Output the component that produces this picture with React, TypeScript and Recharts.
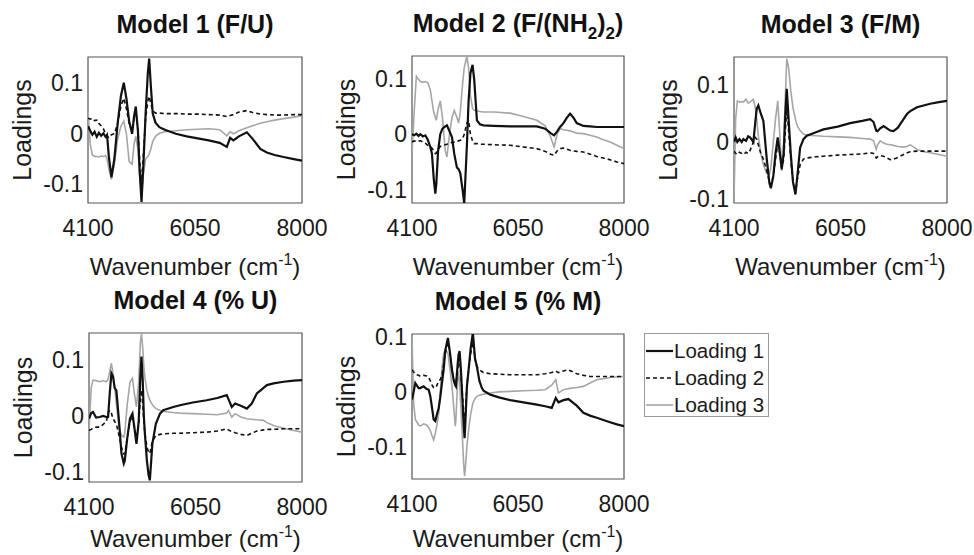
import React from 'react';
import { LineChart, Line, XAxis, YAxis, ReferenceArea } from 'recharts';

const FONT = "'Liberation Sans', Arial, Helvetica, sans-serif";

const xTicks = [4100, 6050, 8000];
const yTicks = [-0.1, 0, 0.1];
const seriesNames = ['Loading 1', 'Loading 2', 'Loading 3'];

// ---------- Model 1 (F/U) ----------
const p1Wavenumber = [4100, 4140, 4180, 4220, 4260, 4300, 4340, 4380, 4420, 4447, 4480, 4527, 4580, 4640, 4700, 4752, 4800, 4850, 4904, 4940, 4971, 5010, 5040, 5075, 5110, 5150, 5190, 5215, 5245, 5280, 5330, 5400, 5500, 5700, 5900, 6100, 6300, 6500, 6630, 6690, 6750, 6850, 6995, 7100, 7240, 7360, 7500, 7665, 7850, 8000];
const p1Loading1 = [0.015, 0.006, -0.002, 0.004, -0.006, 0.002, -0.004, 0.001, -0.006, -0.002, -0.045, -0.086, -0.05, 0.02, 0.075, 0.101, 0.07, 0.025, 0.0, 0.035, 0.054, 0.005, -0.07, -0.135, -0.06, 0.04, 0.12, 0.149, 0.095, 0.04, 0.022, 0.013, 0.008, 0.0, -0.005, -0.009, -0.013, -0.018, -0.026, -0.008, -0.013, -0.005, 0.003, -0.01, -0.03, -0.037, -0.042, -0.046, -0.05, -0.053];
const p1Loading2 = [0.031, 0.029, 0.031, 0.026, 0.027, 0.02, 0.016, 0.01, 0.0, -0.004, -0.008, -0.002, 0.0, 0.02, 0.055, 0.07, 0.05, 0.02, 0.005, 0.03, 0.045, 0.01, -0.05, -0.1, -0.04, 0.03, 0.065, 0.074, 0.06, 0.045, 0.041, 0.041, 0.04, 0.04, 0.039, 0.039, 0.038, 0.037, 0.034, 0.036, 0.038, 0.043, 0.046, 0.042, 0.039, 0.038, 0.037, 0.037, 0.038, 0.038];
const p1Loading3 = [0.045, -0.02, -0.042, -0.045, -0.045, -0.046, -0.044, -0.045, -0.043, -0.05, -0.07, -0.09, -0.06, -0.01, 0.015, 0.025, 0.0, -0.055, -0.06, -0.02, -0.005, -0.03, -0.08, -0.12, -0.08, -0.05, -0.045, -0.04, -0.03, -0.015, -0.005, 0.001, 0.004, 0.006, 0.008, 0.009, 0.01, 0.008, -0.004, 0.004, 0.0, 0.006, 0.012, 0.016, 0.021, 0.024, 0.027, 0.03, 0.033, 0.036];

// ---------- Model 2 (F/(NH2)2) ----------
const p2Wavenumber = [4100, 4140, 4180, 4220, 4253, 4300, 4345, 4390, 4437, 4467, 4500, 4529, 4547, 4580, 4620, 4660, 4712, 4743, 4790, 4835, 4877, 4926, 4957, 4988, 5030, 5061, 5110, 5141, 5175, 5214, 5245, 5294, 5350, 5416, 5600, 5906, 6150, 6396, 6550, 6650, 6714, 6770, 6824, 6886, 6950, 7008, 7070, 7130, 7253, 7375, 7498, 7620, 7743, 7870, 8000];
const p2Loading1 = [0.0, -0.002, 0.001, -0.003, 0.0, -0.004, -0.002, -0.01, -0.023, -0.035, -0.08, -0.107, -0.09, -0.03, 0.0, 0.01, 0.014, 0.016, 0.005, -0.005, -0.035, -0.06, -0.063, -0.07, -0.1, -0.125, -0.02, 0.06, 0.11, 0.125, 0.098, 0.025, 0.018, 0.016, 0.015, 0.014, 0.014, 0.014, 0.01, 0.002, -0.002, 0.005, 0.013, 0.02, 0.03, 0.037, 0.03, 0.02, 0.015, 0.014, 0.013, 0.013, 0.013, 0.013, 0.013];
const p2Loading2 = [-0.014, -0.012, -0.013, -0.012, -0.012, -0.014, -0.016, -0.02, -0.023, -0.025, -0.03, -0.035, -0.034, -0.028, -0.022, -0.02, -0.019, -0.018, -0.016, -0.015, -0.014, -0.013, -0.012, -0.011, -0.008, 0.0, 0.02, 0.025, 0.0, -0.012, -0.017, -0.017, -0.018, -0.018, -0.019, -0.02, -0.023, -0.026, -0.031, -0.036, -0.038, -0.03, -0.026, -0.025, -0.027, -0.029, -0.03, -0.031, -0.032, -0.036, -0.04, -0.043, -0.046, -0.05, -0.053];
const p2Loading3 = [-0.035, 0.04, 0.104, 0.099, 0.095, 0.094, 0.095, 0.093, 0.08, 0.06, 0.04, 0.03, 0.025, 0.045, 0.06, 0.03, -0.03, -0.041, 0.0, 0.03, 0.043, 0.03, 0.02, 0.04, 0.09, 0.12, 0.14, 0.12, 0.07, 0.046, 0.043, 0.042, 0.041, 0.04, 0.04, 0.038, 0.032, 0.025, 0.015, -0.005, -0.023, 0.0, 0.01, 0.008, 0.007, 0.006, 0.004, 0.002, 0.001, -0.002, -0.005, -0.01, -0.014, -0.02, -0.026];

// ---------- Model 3 (F/M) ----------
const p3Wavenumber = [4100, 4130, 4161, 4200, 4240, 4271, 4320, 4360, 4393, 4455, 4490, 4516, 4546, 4590, 4638, 4700, 4748, 4775, 4820, 4860, 4901, 4940, 4974, 5010, 5040, 5066, 5100, 5139, 5180, 5225, 5260, 5310, 5372, 5433, 5600, 5738, 6000, 6227, 6450, 6594, 6655, 6704, 6729, 6777, 6839, 6900, 6961, 7022, 7100, 7205, 7267, 7328, 7450, 7570, 7694, 7850, 8000];
const p3Loading1 = [0.0, 0.008, 0.0, 0.005, 0.0, 0.005, 0.002, 0.01, 0.008, 0.0, 0.035, 0.058, 0.064, 0.05, 0.037, -0.03, -0.072, -0.081, -0.06, -0.02, 0.008, -0.02, -0.048, -0.02, 0.05, 0.093, 0.04, -0.02, -0.07, -0.092, -0.06, -0.01, 0.005, 0.011, 0.017, 0.022, 0.027, 0.033, 0.037, 0.04, 0.035, 0.02, 0.019, 0.024, 0.028, 0.024, 0.02, 0.019, 0.025, 0.04, 0.049, 0.054, 0.061, 0.064, 0.067, 0.07, 0.072];
const p3Loading2 = [-0.016, -0.02, -0.022, -0.018, -0.02, -0.022, -0.018, -0.02, -0.015, 0.0, 0.008, 0.005, -0.005, -0.02, -0.03, -0.05, -0.07, -0.075, -0.06, -0.03, -0.005, -0.02, -0.045, -0.03, 0.02, 0.06, 0.02, -0.03, -0.07, -0.09, -0.065, -0.04, -0.03, -0.028, -0.026, -0.025, -0.023, -0.022, -0.021, -0.019, -0.02, -0.028, -0.026, -0.024, -0.025, -0.028, -0.031, -0.03, -0.027, -0.022, -0.019, -0.017, -0.016, -0.016, -0.016, -0.016, -0.016];
const p3Loading3 = [-0.1, 0.04, 0.072, 0.07, 0.071, 0.07, 0.075, 0.068, 0.07, 0.075, 0.06, 0.04, 0.01, -0.02, -0.04, -0.055, -0.057, -0.045, 0.0, 0.04, 0.072, 0.01, -0.051, 0.0, 0.08, 0.146, 0.13, 0.09, 0.06, 0.04, 0.028, 0.02, 0.014, 0.012, 0.011, 0.01, 0.009, 0.008, 0.006, 0.005, 0.002, -0.013, -0.005, 0.002, -0.002, -0.004, -0.005, -0.006, -0.008, -0.009, -0.008, -0.005, -0.013, -0.017, -0.019, -0.022, -0.025];

// ---------- Model 4 (% U) ----------
const p4Wavenumber = [4100, 4140, 4173, 4230, 4296, 4360, 4418, 4449, 4480, 4510, 4540, 4570, 4602, 4650, 4694, 4737, 4755, 4800, 4850, 4896, 4930, 4969, 5010, 5040, 5061, 5085, 5104, 5122, 5160, 5190, 5214, 5260, 5324, 5400, 5459, 5643, 5765, 6000, 6255, 6450, 6622, 6653, 6714, 6775, 6880, 6990, 7080, 7173, 7296, 7357, 7479, 7663, 7850, 8000];
const p4Loading1 = [-0.005, 0.005, 0.007, -0.003, -0.002, 0.0, -0.002, -0.002, 0.04, 0.076, 0.07, 0.05, 0.045, -0.01, -0.067, -0.085, -0.08, -0.04, -0.005, 0.004, -0.02, -0.05, -0.01, 0.07, 0.106, 0.06, 0.0, -0.03, -0.08, -0.105, -0.115, -0.05, -0.014, 0.004, 0.01, 0.016, 0.019, 0.024, 0.028, 0.032, 0.037, 0.03, 0.016, 0.022, 0.018, 0.013, 0.022, 0.04, 0.05, 0.055, 0.058, 0.061, 0.063, 0.064];
const p4Loading2 = [-0.026, -0.024, -0.022, -0.02, -0.02, -0.015, -0.01, 0.005, 0.01, 0.005, -0.005, -0.01, -0.015, -0.035, -0.056, -0.068, -0.068, -0.04, -0.01, 0.0, -0.02, -0.044, -0.01, 0.03, 0.046, 0.02, -0.01, -0.03, -0.055, -0.065, -0.067, -0.045, -0.035, -0.033, -0.032, -0.031, -0.031, -0.03, -0.029, -0.027, -0.023, -0.025, -0.028, -0.03, -0.033, -0.035, -0.031, -0.027, -0.025, -0.024, -0.024, -0.023, -0.023, -0.023];
const p4Loading3 = [-0.025, 0.05, 0.064, 0.063, 0.061, 0.063, 0.061, 0.065, 0.08, 0.094, 0.075, 0.05, 0.02, -0.02, -0.035, -0.038, -0.03, 0.02, 0.06, 0.067, 0.04, 0.016, 0.06, 0.13, 0.147, 0.12, 0.088, 0.07, 0.045, 0.035, 0.028, 0.02, 0.013, 0.01, 0.008, 0.006, 0.005, 0.004, 0.003, 0.002, 0.005, 0.01, -0.002, 0.004, -0.002, -0.005, -0.006, -0.007, -0.008, -0.012, -0.017, -0.022, -0.026, -0.029];

// ---------- Model 5 (% M) ----------
const p5Wavenumber = [4100, 4130, 4161, 4222, 4253, 4314, 4370, 4406, 4437, 4470, 4498, 4529, 4560, 4590, 4620, 4650, 4682, 4712, 4761, 4800, 4835, 4870, 4896, 4908, 4940, 4957, 4975, 5000, 5031, 5050, 5067, 5080, 5110, 5141, 5180, 5220, 5260, 5294, 5340, 5386, 5416, 5539, 5700, 5906, 6150, 6396, 6550, 6671, 6745, 6794, 6886, 6977, 7130, 7253, 7375, 7498, 7620, 7743, 7870, 8000];
const p5Loading1 = [-0.014, 0.0, 0.016, 0.007, 0.007, 0.01, 0.005, 0.004, -0.008, -0.03, -0.05, -0.053, -0.04, -0.03, -0.01, 0.015, 0.04, 0.075, 0.098, 0.07, 0.04, 0.02, 0.012, 0.01, 0.05, 0.068, 0.074, 0.04, -0.02, -0.06, -0.084, -0.06, 0.01, 0.04, 0.08, 0.107, 0.06, 0.046, 0.02, 0.007, 0.002, -0.005, -0.01, -0.015, -0.019, -0.023, -0.026, -0.029, -0.011, -0.019, -0.015, -0.013, -0.025, -0.038, -0.043, -0.047, -0.051, -0.055, -0.059, -0.062];
const p5Loading2 = [0.04, 0.036, 0.032, 0.03, 0.028, 0.03, 0.029, 0.027, 0.02, 0.012, 0.008, 0.007, 0.012, 0.02, 0.022, 0.03, 0.05, 0.07, 0.09, 0.07, 0.04, 0.02, 0.015, 0.015, 0.04, 0.055, 0.06, 0.03, -0.01, -0.04, -0.06, -0.04, 0.01, 0.04, 0.07, 0.09, 0.06, 0.045, 0.04, 0.037, 0.035, 0.033, 0.032, 0.031, 0.031, 0.031, 0.033, 0.035, 0.038, 0.035, 0.038, 0.04, 0.033, 0.03, 0.028, 0.028, 0.028, 0.028, 0.028, 0.028];
const p5Loading3 = [0.1, -0.02, -0.05, -0.06, -0.062, -0.058, -0.06, -0.065, -0.07, -0.08, -0.087, -0.075, -0.06, -0.04, 0.0, 0.04, 0.07, 0.077, 0.07, 0.04, 0.01, -0.03, -0.062, -0.05, 0.02, 0.035, 0.02, -0.03, -0.09, -0.13, -0.153, -0.14, -0.1, -0.068, -0.04, -0.02, -0.012, -0.008, -0.006, -0.005, -0.004, -0.002, 0.0, 0.001, 0.002, 0.003, 0.004, 0.012, 0.022, -0.002, 0.004, 0.006, 0.008, 0.01, 0.016, 0.022, 0.024, 0.026, 0.027, 0.028];

const LM = 92;
const TM = 10;
const RM = 36;
const BM = 90;

type Box = { left: number; top: number; width: number; height: number; xLabelGap: number };
type PanelDef = {
  title: React.ReactNode;
  wn: number[];
  l1: number[];
  l2: number[];
  l3: number[];
  yDomain: [number, number];
  box: Box;
};

const sub = (t: string) => (
  <span style={{ fontSize: 17, verticalAlign: '-7px', lineHeight: 1 }}>{t}</span>
);

const panels: PanelDef[] = [
  { title: 'Model 1 (F/U)', wn: p1Wavenumber, l1: p1Loading1, l2: p1Loading2, l3: p1Loading3, yDomain: [-0.137, 0.152], box: { left: 88, top: 57, width: 214, height: 146, xLabelGap: 72 } },
  { title: <>Model 2 (F/(NH{sub('2')}){sub('2')})</>, wn: p2Wavenumber, l1: p2Loading1, l2: p2Loading2, l3: p2Loading3, yDomain: [-0.124, 0.141], box: { left: 412, top: 56, width: 212, height: 147, xLabelGap: 72 } },
  { title: 'Model 3 (F/M)', wn: p3Wavenumber, l1: p3Loading1, l2: p3Loading2, l3: p3Loading3, yDomain: [-0.107, 0.149], box: { left: 734, top: 57, width: 213, height: 146, xLabelGap: 72 } },
  { title: 'Model 4 (% U)', wn: p4Wavenumber, l1: p4Loading1, l2: p4Loading2, l3: p4Loading3, yDomain: [-0.118, 0.148], box: { left: 89, top: 333, width: 213, height: 149, xLabelGap: 65 } },
  { title: 'Model 5 (% M)', wn: p5Wavenumber, l1: p5Loading1, l2: p5Loading2, l3: p5Loading3, yDomain: [-0.158, 0.105], box: { left: 412, top: 334, width: 212, height: 145, xLabelGap: 68 } },
];

const TEXT = '#1a1a1a';

function Panel({ p }: { p: PanelDef }) {
  const data = p.wn.map((w, i) => ({ wn: w, l1: p.l1[i], l2: p.l2[i], l3: p.l3[i] }));
  const W = LM + p.box.width + RM;
  const H = TM + p.box.height + BM;
  const yLabelX = LM - 57;
  const yLabelY = TM + p.box.height / 2;
  const xLabel = () => (
    <text x={LM + p.box.width / 2} y={TM + p.box.height + p.box.xLabelGap} textAnchor="middle" fontSize={24} fontFamily={FONT} fill={TEXT}>
      Wavenumber (cm<tspan dy={-10} fontSize={16}>-1</tspan><tspan dy={10}>)</tspan>
    </text>
  );
  const yLabel = () => (
    <text x={yLabelX} y={yLabelY} transform={`rotate(-90 ${yLabelX} ${yLabelY})`} textAnchor="middle" fontSize={25} fontFamily={FONT} fill={TEXT}>
      Loadings
    </text>
  );
  return (
    <>
      <div style={{ position: 'absolute', left: p.box.left - 60, width: p.box.width + 120, top: p.box.top - 48, textAlign: 'center', fontFamily: FONT, fontWeight: 'bold', fontSize: 25, lineHeight: '30px', whiteSpace: 'nowrap', color: '#111' }}>
        {p.title}
      </div>
      <div style={{ position: 'absolute', left: p.box.left - LM, top: p.box.top - TM, width: W, height: H }}>
        <LineChart width={W} height={H} data={data} margin={{ top: TM, right: RM, left: 0, bottom: 0 }}>
          <XAxis dataKey="wn" type="number" domain={[4100, 8000]} ticks={xTicks} interval={0} allowDataOverflow tickLine={false} tickSize={0} tickMargin={17} height={BM} axisLine={false} tick={{ fontSize: 23, fill: TEXT, fontFamily: FONT }} label={xLabel} />
          <YAxis type="number" domain={p.yDomain} ticks={yTicks} interval={0} allowDataOverflow width={LM} tickLine={false} tickSize={0} tickMargin={5} axisLine={false} tick={{ fontSize: 23, fill: TEXT, fontFamily: FONT }} label={yLabel} />
          <ReferenceArea x1={4100} x2={8000} y1={p.yDomain[0]} y2={p.yDomain[1]} fill="none" stroke="#555" strokeWidth={1.2} />
          <Line dataKey="l3" name={seriesNames[2]} type="linear" stroke="#a6a6a6" strokeWidth={1.6} dot={false} isAnimationActive={false} />
          <Line dataKey="l2" name={seriesNames[1]} type="linear" stroke="#111" strokeWidth={1.6} strokeDasharray="4 3" dot={false} isAnimationActive={false} />
          <Line dataKey="l1" name={seriesNames[0]} type="linear" stroke="#111" strokeWidth={2.2} dot={false} isAnimationActive={false} />
        </LineChart>
      </div>
    </>
  );
}

const legendStyles = [
  { stroke: '#111', width: 2.2, dash: undefined as string | undefined },
  { stroke: '#111', width: 1.6, dash: '4 3' },
  { stroke: '#a6a6a6', width: 1.6, dash: undefined as string | undefined },
];

function LegendBox() {
  return (
    <div style={{ position: 'absolute', left: 644, top: 333, width: 125, height: 84, border: '1px solid #999', boxSizing: 'border-box', background: '#fff' }}>
      {seriesNames.map((n, i) => (
        <div key={n} style={{ position: 'absolute', left: 0, top: 4 + 27 * i, height: 26, width: 123, display: 'flex', alignItems: 'center' }}>
          <svg width={29} height={26} style={{ display: 'block' }}>
            <line x1={1} y1={13} x2={28} y2={13} stroke={legendStyles[i].stroke} strokeWidth={legendStyles[i].width} strokeDasharray={legendStyles[i].dash} />
          </svg>
          <span style={{ fontFamily: FONT, fontSize: 20.5, color: TEXT, whiteSpace: 'nowrap' }}>{n}</span>
        </div>
      ))}
    </div>
  );
}

export default function App() {
  return (
    <div style={{ position: 'absolute', left: 0, top: 0, width: 974, height: 555, background: '#fff', overflow: 'hidden' }}>
      {panels.map((p, i) => (
        <Panel key={i} p={p} />
      ))}
      <LegendBox />
    </div>
  );
}
